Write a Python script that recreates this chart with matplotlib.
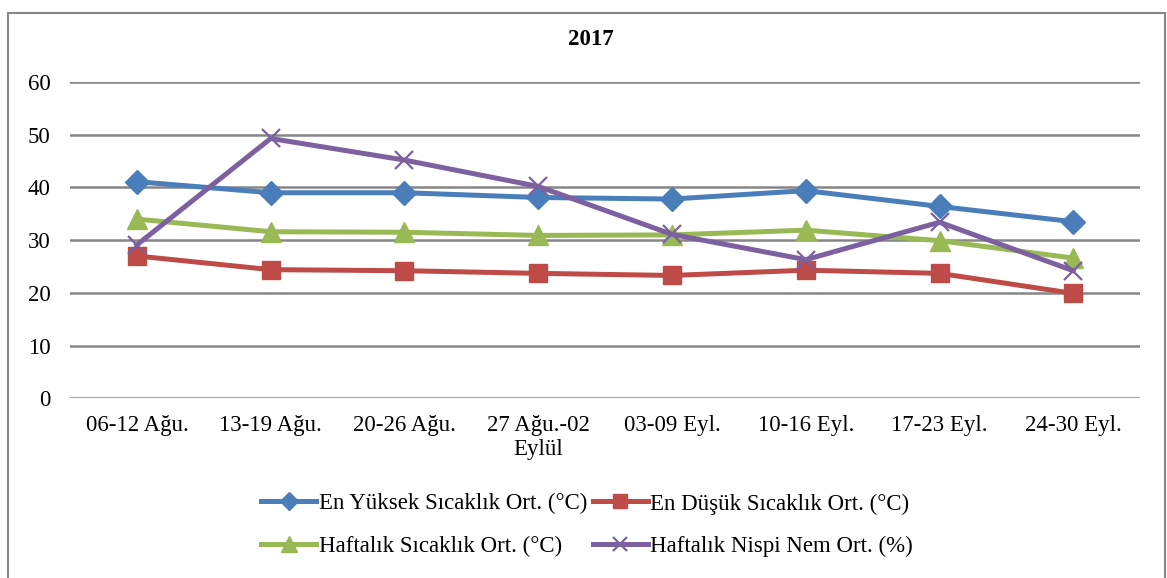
import matplotlib.pyplot as plt
from matplotlib.patches import Rectangle

plt.rcParams['font.family'] = ['Liberation Serif', 'DejaVu Serif']

# weeks and weekly values
weeks = ['06-12 Ağu.', '13-19 Ağu.', '20-26 Ağu.', '27 Ağu.-02\nEylül',
         '03-09 Eyl.', '10-16 Eyl.', '17-23 Eyl.', '24-30 Eyl.']
max_temp = [41.1, 39.0, 39.0, 38.1, 37.8, 39.4, 36.4, 33.5]
min_temp = [27.0, 24.4, 24.2, 23.7, 23.3, 24.3, 23.7, 19.9]
mean_temp = [34.0, 31.6, 31.5, 30.9, 31.0, 31.9, 29.9, 26.6]
humidity = [29.1, 49.3, 45.2, 40.2, 31.1, 26.3, 33.4, 24.2]

fs = 16.5

fig = plt.figure(figsize=(11.67, 5.78), dpi=100)
ax = fig.add_axes([0.06, 0.311, 0.917, 0.547])

x = range(len(weeks))
l1, = ax.plot(x, max_temp, color='#4A7EBB', lw=3.6, marker='D', ms=12,
              label='En Yüksek Sıcaklık Ort. (°C)')
l2, = ax.plot(x, min_temp, color='#BE4B48', lw=3.6, marker='s', ms=13,
              label='En Düşük Sıcaklık Ort. (°C)')
l3, = ax.plot(x, mean_temp, color='#98B954', lw=3.6, marker='^', ms=14,
              label='Haftalık Sıcaklık Ort. (°C)')
l4, = ax.plot(x, humidity, color='#7D60A0', lw=3.6, marker='x', ms=13, mew=1.6,
              label='Haftalık Nispi Nem Ort. (%)')

ax.set_xlim(-0.5, len(weeks) - 0.5)
ax.set_ylim(0, 60)
ax.set_yticks(range(0, 61, 10))
ax.set_xticks(list(x))
ax.set_xticklabels(weeks)
ax.grid(axis='y', color='#868686', lw=1.8)
ax.set_axisbelow(True)
for s in ax.spines.values():
    s.set_visible(False)
ax.tick_params(length=0, labelsize=fs)
ax.tick_params(axis='y', pad=14)
ax.tick_params(axis='x', pad=12)

fig.text(0.506, 0.932, '2017', ha='center', va='center',
         fontsize=fs, fontweight='bold')

# row-wise order: blue, red / green, purple
handles = [l1, l3, l2, l4]
fig.legend(handles, [h.get_label() for h in handles],
           loc='center', bbox_to_anchor=(0.503, 0.091), ncol=2,
           frameon=False, fontsize=fs, handlelength=2.4,
           handletextpad=0.1, columnspacing=0.25, labelspacing=0.95,
           borderpad=0, markerscale=0.8)

fig.patches.append(Rectangle((0.007, -0.01), 0.991, 0.987,
                             transform=fig.transFigure, fill=False,
                             edgecolor='#878787', lw=1.5))

fig.savefig('out.png', dpi=100)
